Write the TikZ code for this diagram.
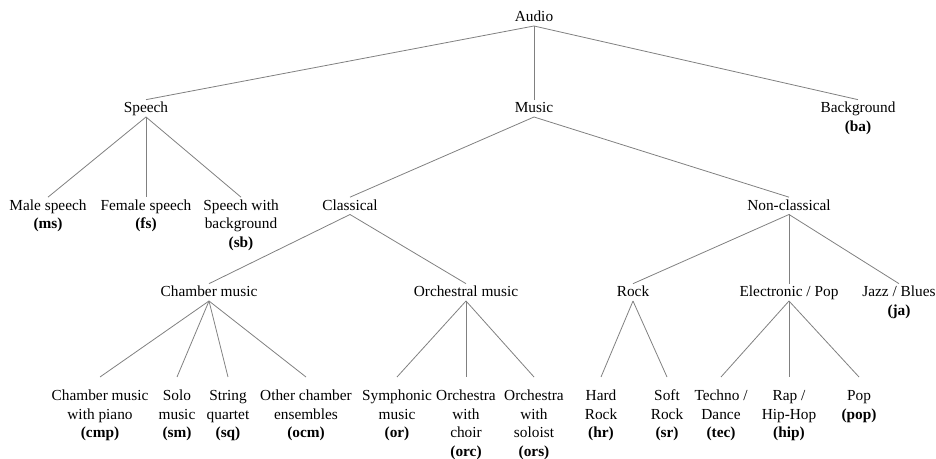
\documentclass[tikz,border=0pt]{standalone}
\usepackage{fontspec}
\setmainfont{Liberation Serif}
\newcommand{\mlines}[1]{\begin{tabular}[t]{@{}c@{}}#1\end{tabular}}
\begin{document}
\begin{tikzpicture}[x=0.75pt,y=-0.75pt,
  lbl/.style={font=\fontsize{11.5}{13.8}\selectfont, anchor=base, inner sep=0pt},
  edge/.style={draw=gray, line width=0.6pt}]
\useasboundingbox (0,0) rectangle (936,459);
% level 0
\node[lbl] (audio) at (534,22) {\mlines{Audio}};
% level 1
\node[lbl] (speech) at (146,113) {\mlines{Speech}};
\node[lbl] (music) at (534,113) {\mlines{Music}};
\node[lbl] (bg) at (858,113) {\mlines{Background\\\textbf{(ba)}}};
% level 2
\node[lbl] (ms) at (48,210.5) {\mlines{Male speech\\\textbf{(ms)}}};
\node[lbl] (fs) at (146,210.5) {\mlines{Female speech\\\textbf{(fs)}}};
\node[lbl] (sb) at (241,210.5) {\mlines{Speech with\\background\\\textbf{(sb)}}};
\node[lbl] (classical) at (350,210.5) {\mlines{Classical}};
\node[lbl] (nonclassical) at (789,210.5) {\mlines{Non-classical}};
% level 3
\node[lbl] (chamber) at (209,297) {\mlines{Chamber music}};
\node[lbl] (orchestral) at (466,297) {\mlines{Orchestral music}};
\node[lbl] (rock) at (633,297) {\mlines{Rock}};
\node[lbl] (elec) at (789,297) {\mlines{Electronic / Pop}};
\node[lbl] (jazz) at (899,297) {\mlines{Jazz / Blues\\\textbf{(ja)}}};
% leaves
\node[lbl] (cmp) at (100,401) {\mlines{Chamber music\\with piano\\\textbf{(cmp)}}};
\node[lbl] (sm) at (177,401) {\mlines{Solo\\music\\\textbf{(sm)}}};
\node[lbl] (sq) at (228,401) {\mlines{String\\quartet\\\textbf{(sq)}}};
\node[lbl] (ocm) at (306,401) {\mlines{Other chamber\\ensembles\\\textbf{(ocm)}}};
\node[lbl] (nor) at (397,401) {\mlines{Symphonic\\music\\\textbf{(or)}}};
\node[lbl] (orc) at (466,401) {\mlines{Orchestra\\with\\choir\\\textbf{(orc)}}};
\node[lbl] (ors) at (534,401) {\mlines{Orchestra\\with\\soloist\\\textbf{(ors)}}};
\node[lbl] (hr) at (601,401) {\mlines{Hard\\Rock\\\textbf{(hr)}}};
\node[lbl] (sr) at (667,401) {\mlines{Soft\\Rock\\\textbf{(sr)}}};
\node[lbl] (tec) at (721,401) {\mlines{Techno /\\Dance\\\textbf{(tec)}}};
\node[lbl] (hip) at (789,401) {\mlines{Rap /\\Hip-Hop\\\textbf{(hip)}}};
\node[lbl] (pop) at (859,401) {\mlines{Pop\\\textbf{(pop)}}};
% edges
\foreach \p/\c in {audio/speech, audio/music, audio/bg,
  speech/ms, speech/fs, speech/sb, music/classical, music/nonclassical,
  classical/chamber, classical/orchestral, nonclassical/rock, nonclassical/elec, nonclassical/jazz}
  \draw[edge] ([yshift=-3pt]\p.base) -- ([yshift=10pt]\c.base);
\foreach \p/\c in {chamber/cmp, chamber/sm, chamber/sq, chamber/ocm,
  orchestral/nor, orchestral/orc, orchestral/ors, rock/hr, rock/sr,
  elec/tec, elec/hip, elec/pop}
  \draw[edge] ([yshift=-3pt]\p.base) -- ([yshift=18pt]\c.base);
\end{tikzpicture}
\end{document}
